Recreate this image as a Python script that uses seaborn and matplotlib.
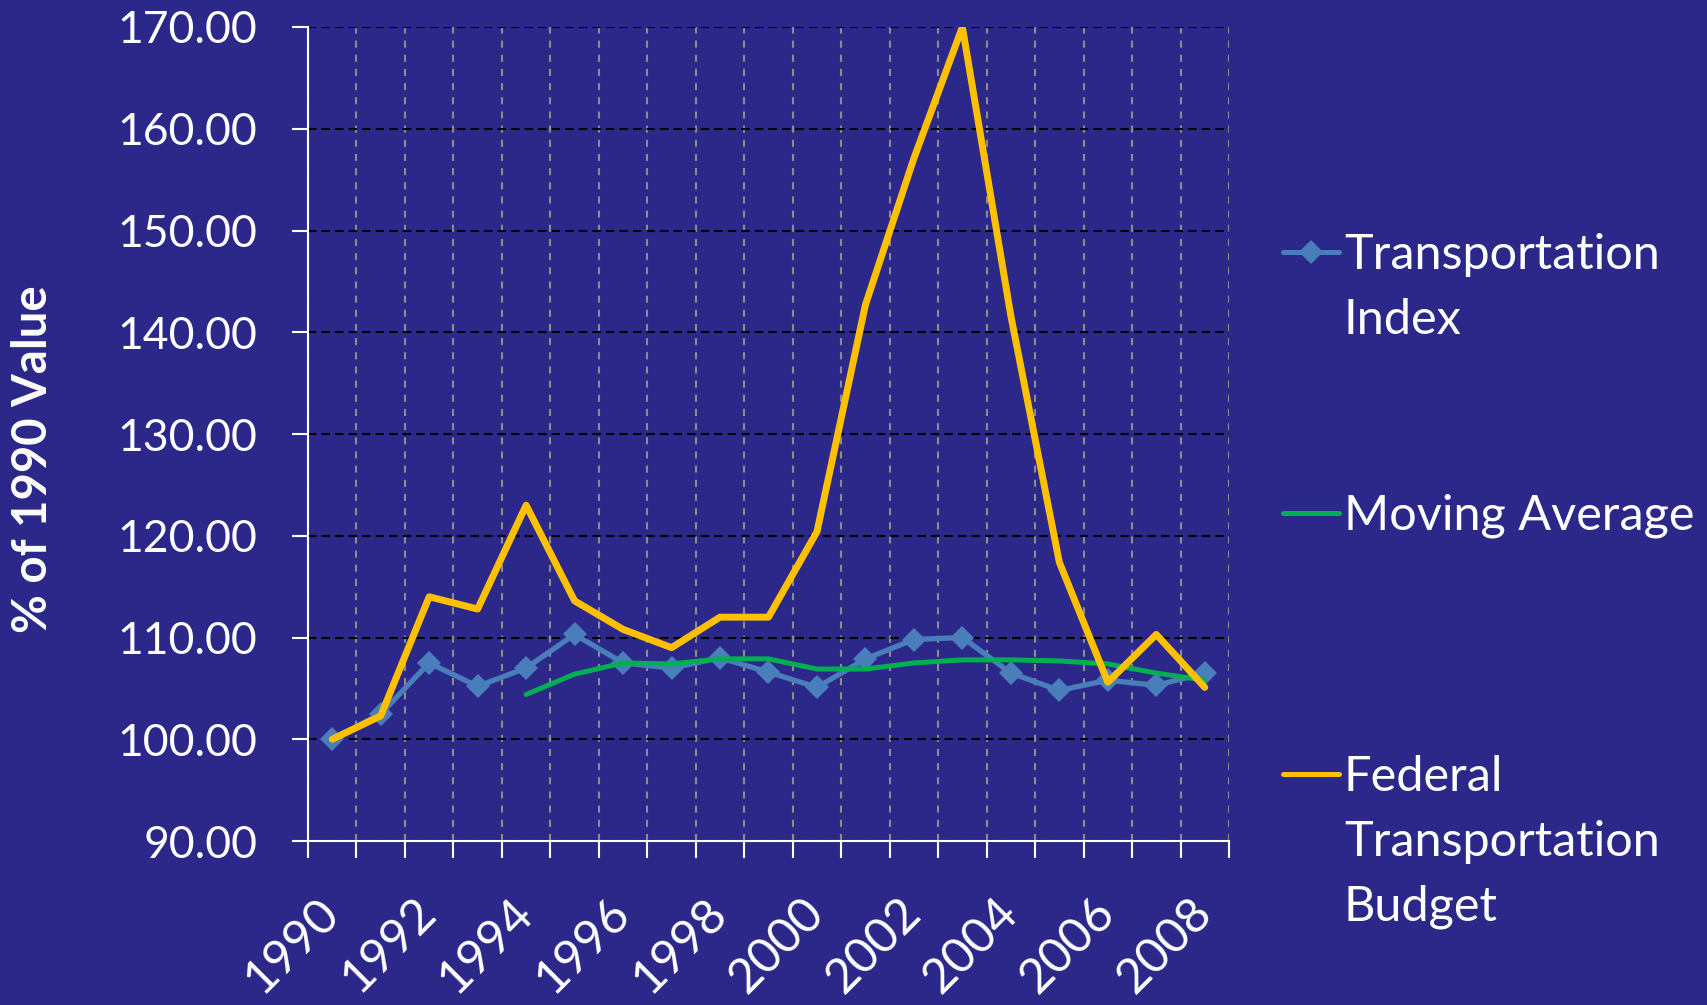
import numpy as np
import pandas as pd
import matplotlib
matplotlib.use('Agg')
import matplotlib.pyplot as plt
import seaborn as sns

# Chart data
years = list(range(1990, 2009))
transport_index = [100.0, 102.5, 107.5, 105.2, 107.0, 110.3, 107.5, 107.0, 108.0, 106.6,
                   105.1, 107.9, 109.8, 110.0, 106.5, 104.8, 105.8, 105.3, 106.5]
moving_average = [np.nan, np.nan, np.nan, np.nan, 104.4, 106.4, 107.5, 107.4, 107.9, 107.9,
                  106.9, 106.9, 107.5, 107.8, 107.8, 107.7, 107.4, 106.5, 105.8]
federal_budget = [100.0, 102.3, 114.0, 112.8, 123.0, 113.6, 110.8, 109.0, 112.0, 112.0,
                  120.4, 142.7, 157.1, 170.0, 141.6, 117.4, 105.6, 110.3, 105.1]
series_labels = ["Transportation\nIndex", "Moving Average", "Federal\nTransportation\nBudget"]
y_ticks = [90, 100, 110, 120, 130, 140, 150, 160, 170]

BG = '#2B288A'
W, H = 1708, 1005

sns.set_theme(style="white")
plt.rcParams['font.family'] = ['Lato', 'DejaVu Sans']
plt.rcParams['text.color'] = 'white'

df = pd.DataFrame({
    'pos': np.arange(len(years)),
    'index': transport_index,
    'avg': moving_average,
    'budget': federal_budget,
})

fig = plt.figure(figsize=(W / 100, H / 100), dpi=100)
fig.patch.set_facecolor(BG)
ax = fig.add_axes([308 / W, 1 - 841 / H, (1229 - 308) / W, (841 - 27) / H])
ax.set_facecolor(BG)

sns.lineplot(data=df, x='pos', y='index', ax=ax, color='#4A7EBB', linewidth=3.8,
             marker='D', markersize=12, markeredgewidth=0, label=series_labels[0].split('\n')[0])
sns.lineplot(data=df.dropna(subset=['avg']), x='pos', y='avg', ax=ax, color='#00B050',
             linewidth=3.6, label=series_labels[1])
sns.lineplot(data=df, x='pos', y='budget', ax=ax, color='#FFC000', linewidth=5,
             label=series_labels[2].split('\n')[0])

# axes
ax.set_xlim(-0.5, len(years) - 0.5)
ax.set_ylim(90, 170)
ax.set_yticks(y_ticks)
ax.set_yticklabels([f"{v:.2f}" for v in y_ticks])
ax.set_xticks(np.arange(0, len(years), 2))
ax.set_xticklabels([str(y) for y in years[::2]], rotation=45, ha='right', va='center',
                   rotation_mode='anchor')
ax.set_xticks(np.arange(-0.5, len(years), 1), minor=True)
ax.set_xlabel('')
ax.set_ylabel('')

ax.tick_params(axis='x', which='major', length=0, pad=46, labelsize=35, labelcolor='white')
ax.tick_params(axis='x', which='minor', length=12, width=1.5, color='white', direction='out', bottom=True)
ax.tick_params(axis='y', length=11.5, width=1.5, color='white', direction='out', left=True,
               labelsize=32, labelcolor='white', pad=25)

ax.grid(False)
ax.yaxis.grid(True, which='major', color='black', linestyle=(0, (4, 2.5)), linewidth=1.5)
ax.xaxis.grid(True, which='minor', color='#8C8C8C', linestyle=(0, (3.4, 3.4)), linewidth=1.5)
ax.set_axisbelow(True)

for side in ['top', 'right']:
    ax.spines[side].set_visible(False)
for side in ['left', 'bottom']:
    ax.spines[side].set_color('white')
    ax.spines[side].set_linewidth(1.5)

fig.text(33 / W, 1 - 459 / H, '% of 1990 Value', rotation=90, ha='center', va='center',
         fontsize=34, fontweight='bold', color='white')

# legend: first line of each label with its handle, remaining lines as plain text
ax.get_legend().remove()
handles, labels = ax.get_legend_handles_labels()
leg = fig.legend(handles, labels, loc='center left', bbox_to_anchor=(1283 / W, 1 - 516 / H),
                 frameon=False, fontsize=35, handlelength=1.15, handletextpad=0.1,
                 borderpad=0, borderaxespad=0, labelspacing=4.45, labelcolor='white')
for line in leg.get_lines():
    line.set_linewidth(3.6)

fig.canvas.draw()
line_gap = 65
for txt, full in zip(leg.get_texts(), series_labels):
    extra = full.split('\n')[1:]
    if not extra:
        continue
    x_px, y_px = txt.get_transform().transform((0, 0))
    for k, part in enumerate(extra, start=1):
        fig.text(x_px / W, (y_px - line_gap * k) / H, part, ha='left', va='baseline',
                 fontsize=35, color='white')

fig.savefig('out.png', dpi=100, facecolor=BG)
